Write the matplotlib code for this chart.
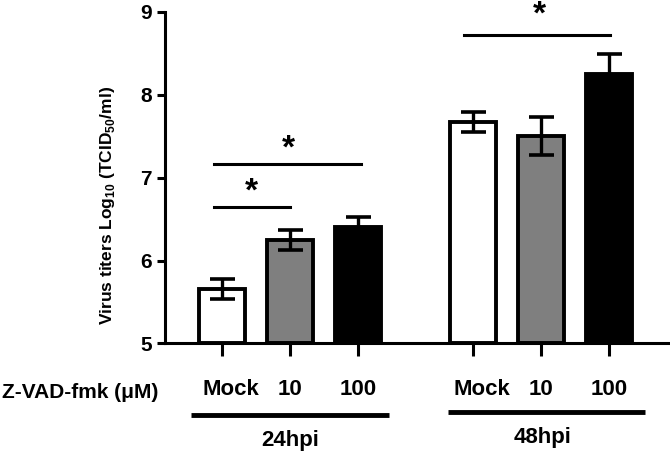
import matplotlib
matplotlib.use('Agg')
import matplotlib.pyplot as plt
import matplotlib.transforms as mtransforms

plt.rcParams['font.family'] = ['Liberation Sans', 'DejaVu Sans']
plt.rcParams['font.weight'] = 'bold'
plt.rcParams['axes.labelweight'] = 'bold'
plt.rcParams['mathtext.fontset'] = 'custom'
plt.rcParams['mathtext.bf'] = 'Liberation Sans:bold'
plt.rcParams['mathtext.rm'] = 'Liberation Sans:bold'

# data
doses = ['Mock', '10', '100', 'Mock', '10', '100']
groups = ['24hpi', '48hpi']
titers = [5.66, 6.25, 6.41, 7.67, 7.50, 8.25]
errs = [0.12, 0.12, 0.12, 0.12, 0.23, 0.24]
colors = ['white', '#7f7f7f', 'black', 'white', '#7f7f7f', 'black']
xpos = [0, 1, 2, 3.69, 4.69, 5.69]

fig = plt.figure(figsize=(6.7, 4.54), dpi=100)
ax = fig.add_axes([0.2457, 0.2434, 0.7513, 0.731])

ax.bar(xpos, [t - 5 for t in titers], bottom=5, width=0.68, color=colors,
       edgecolor='black', linewidth=2.8, zorder=2)
ax.errorbar(xpos, titers, yerr=errs, fmt='none', ecolor='black',
            elinewidth=2.4, capsize=9, capthick=2.6, zorder=3)

ax.set_xlim(-0.84, 6.56)
ax.set_ylim(5, 9)
ax.set_yticks([5, 6, 7, 8, 9])
ax.set_xticks(xpos)
ax.set_xticklabels(doses, fontsize=16)
for s in ['top', 'right']:
    ax.spines[s].set_visible(False)
for s in ['left', 'bottom']:
    ax.spines[s].set_linewidth(2.2)
ax.tick_params(axis='y', width=2.2, length=6, labelsize=15, pad=3)
ax.tick_params(axis='x', width=2.2, length=9.5, pad=16)
# shift the "Mock" labels a bit to the right, as in the original
shift = mtransforms.ScaledTranslation(9 / 100, 0, fig.dpi_scale_trans)
for lab in ax.get_xticklabels():
    if lab.get_text() == 'Mock':
        lab.set_transform(lab.get_transform() + shift)

ax.set_ylabel(r'Virus titers Log$_{\mathbf{10}}$ (TCID$_{\mathbf{50}}$/ml)',
              fontsize=12.5)
ax.yaxis.set_label_coords(-0.114, 0.417)
ax.yaxis.label.set_va('center')

# significance
sig = [(-0.12, 1.01, 6.65, 0.44, 6.83), (-0.12, 2.04, 7.16, 0.98, 7.34)]
for x0, x1, y, sx, sy in sig:
    ax.plot([x0, x1], [y, y], color='black', lw=2.2, clip_on=False)
    ax.text(sx, sy, '*', fontsize=24, ha='center', va='center', clip_on=False)
ax.plot([3.56, 5.71], [8.72, 8.72], color='black', lw=2.2, clip_on=False)
ax.text(4.67, 9.14, '*', fontsize=24, ha='center', va='top', clip_on=False)

# group bars
trans = mtransforms.blended_transform_factory(ax.transData, ax.transAxes)
for (x0, x1, y, lx, ly), g in zip([(-0.456, 2.46, -0.215, 1.0, -0.293),
                                   (3.32, 6.22, -0.205, 4.72, -0.282)], groups):
    ax.plot([x0, x1], [y, y], color='black', lw=3.5, transform=trans,
            clip_on=False, solid_capstyle='butt')
    ax.text(lx, ly, g, transform=trans, ha='center', va='center', fontsize=16)

fig.text(0.003, 1 - 393 / 454, 'Z-VAD-fmk (\u03bcM)', ha='left', va='center',
         fontsize=15)

fig.savefig('out.png', dpi=100)
